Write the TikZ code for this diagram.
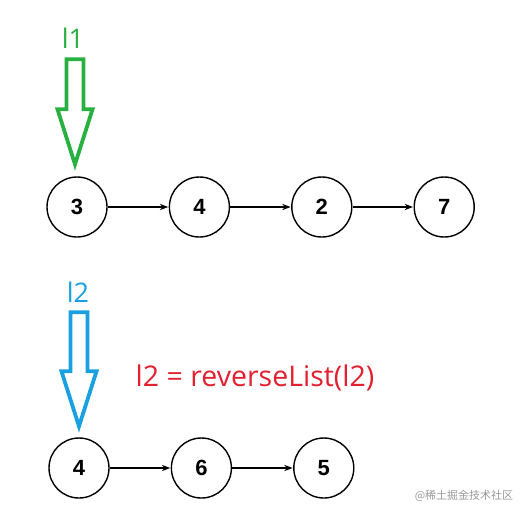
\documentclass[tikz,border=0pt]{standalone}
\usepackage{fontspec}
\usepackage{xcolor}
\setmainfont{Liberation Sans}
\newfontfamily\labelfont{Open Sans}
\newfontfamily\cjkfont{Noto Sans CJK SC}
\usetikzlibrary{positioning,arrows.meta,calc}
\definecolor{ptrgreen}{RGB}{40,176,64}
\definecolor{ptrblue}{RGB}{24,160,224}
\definecolor{noteRed}{RGB}{226,32,48}
% hollow pointer arrow: tip, length, colour
\newcommand{\ptrarrow}[3]{%
  \draw[#3, line width=3.8pt, line join=miter]
    (#1) -- ++(-17.5,-55) -- ++(9,0) -- ++(0,{-(#2-55)}) -- ++(17,0)
    -- ++(0,{#2-55}) -- ++(9,0) -- cycle;}

\begin{document}
\begin{tikzpicture}[x=1pt, y=-1pt, >=Stealth, node distance=121pt,
    elem/.style={circle, draw, line width=1.4pt, minimum size=60pt, inner sep=0pt,
      font=\bfseries\fontsize{22}{22}\selectfont},
    link/.style={->, line width=1.2pt, shorten >=0.5pt},
    ptrlabel/.style={font=\labelfont\fontsize{27}{27}\selectfont}]
  \useasboundingbox (0,0) rectangle (529,515);

  % first list
  \node[elem] (a3) at (77,207) {3};
  \node[elem] (a4) [right=61pt of a3] {4};
  \node[elem] (a2) [right=61pt of a4] {2};
  \node[elem] (a7) [right=61pt of a2] {7};

  \path[link]
    (a3) edge (a4)
    (a4) edge (a2)
    (a2) edge (a7);

  % second list
  \node[elem] (b4) at (79,468) {4};
  \node[elem] (b6) [right=61pt of b4] {6};
  \node[elem] (b5) [right=61pt of b6] {5};

  \path[link]
    (b4) edge (b6)
    (b6) edge (b5);

  % pointers
  \node[ptrlabel, text=ptrgreen] (l1) at (73,38) {l1};
  \coordinate (t1) at ($(a3.north)+(-2,-12)$);
  \ptrarrow{t1}{105}{ptrgreen}

  \node[ptrlabel, text=ptrblue] (l2) at (78,292) {l2};
  \coordinate (t2) at ($(b4.north)+(0,-11)$);
  \ptrarrow{t2}{114}{ptrblue}

  \node[font=\labelfont\fontsize{28.5}{28.5}\selectfont, text=noteRed] (op) at (255,378)
    {l2 = reverseList(l2)};

  \node[font=\cjkfont\fontsize{11}{11}\selectfont, text=black!40] (wm) at (464,496)
    {@稀土掘金技术社区};
\end{tikzpicture}
\end{document}
